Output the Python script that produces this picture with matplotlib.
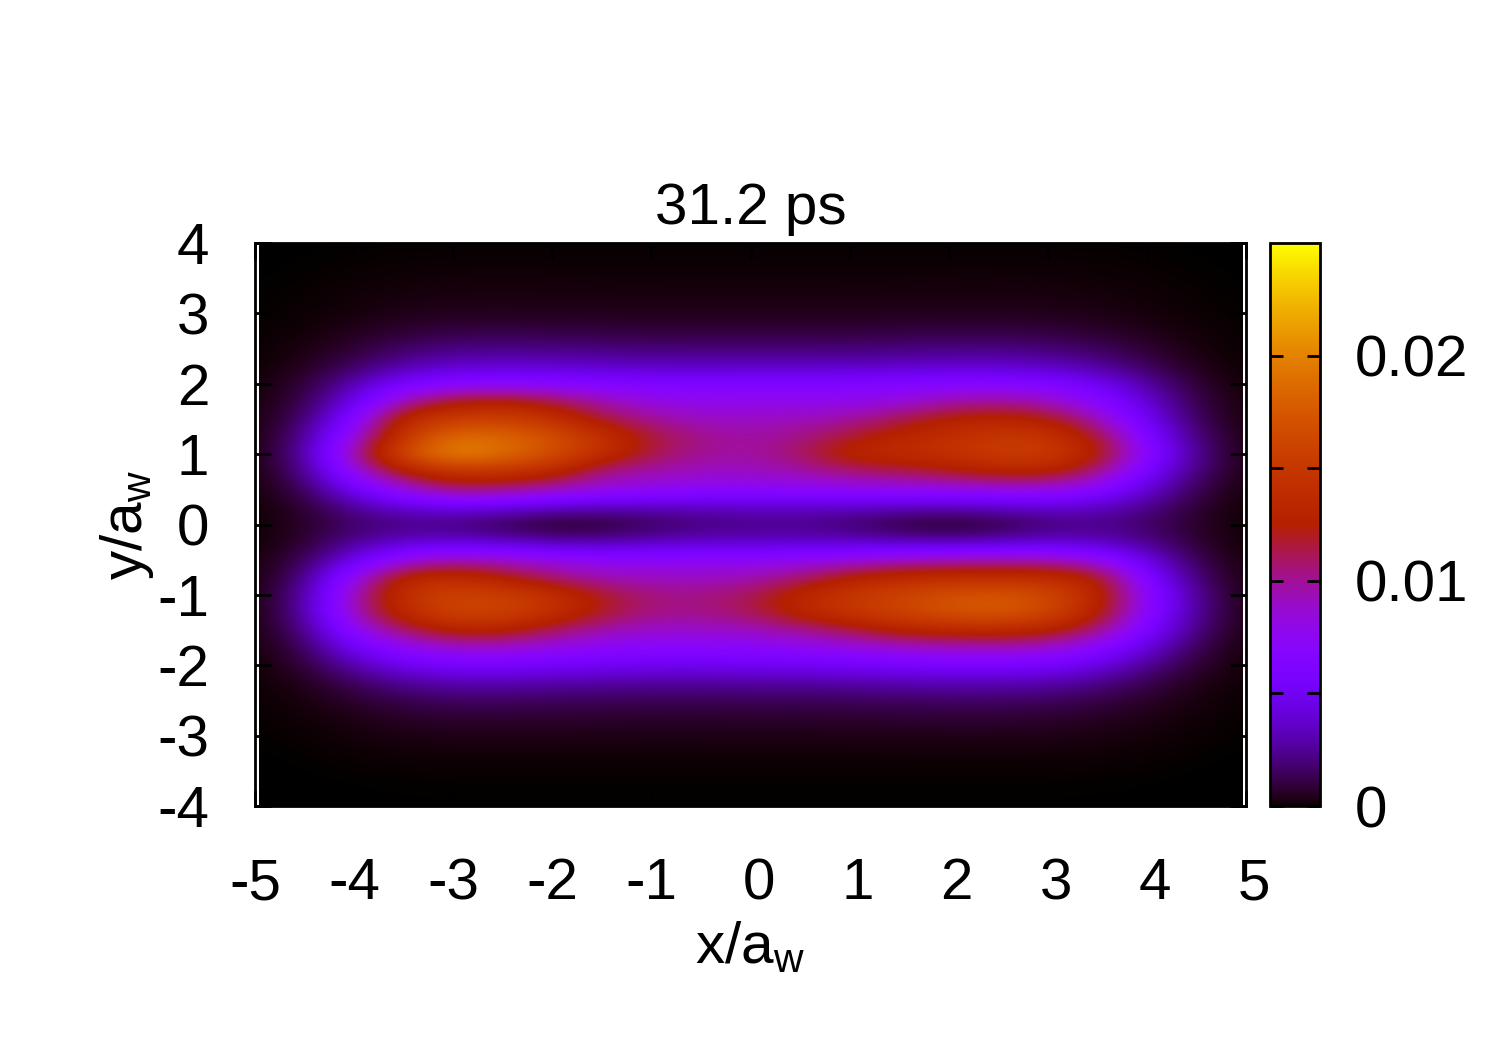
import numpy as np
import matplotlib
matplotlib.use("Agg")
import matplotlib.pyplot as plt
from matplotlib.patches import Rectangle
from matplotlib.transforms import ScaledTranslation

plt.rcParams['font.family'] = ['Liberation Sans', 'DejaVu Sans']
plt.rcParams['mathtext.fontset'] = 'custom'
plt.rcParams['mathtext.rm'] = 'Liberation Sans'
plt.rcParams['mathtext.default'] = 'regular'
plt.rcParams['axes.unicode_minus'] = False

title_text = "31.2 ps"
x_label = r"x/a$_{\mathrm{w}}$"
y_label = r"y/a$_{\mathrm{w}}$"
x_ticks = [-5, -4, -3, -2, -1, 0, 1, 2, 3, 4, 5]
y_ticks = [-4, -3, -2, -1, 0, 1, 2, 3, 4]
cb_major = [0, 0.01, 0.02]
cb_minor = [0.005, 0.015]
cb_labels = ["0", "0.01", "0.02"]
v_max = 0.025

# grid columns: x = -5 ... 5 in steps of 0.5; rows: y = 4 ... -4 in steps of 0.25
x_grid = [-5, -4.5, -4, -3.5, -3, -2.5, -2, -1.5, -1, -.5, 0, .5, 1, 1.5, 2, 2.5, 3, 3.5, 4, 4.5, 5]
y_grid = [4, 3.75, 3.5, 3.25, 3, 2.75, 2.5, 2.25, 2, 1.75, 1.5, 1.25, 1, .75, .5, .25, 0,
          -.25, -.5, -.75, -1, -1.25, -1.5, -1.75, -2, -2.25, -2.5, -2.75, -3, -3.25, -3.5, -3.75, -4]
# density in units of 1e-3
density_milli = [
 [.001,.002,.008,.015,.02,.02,.02,.02,.02,.02,.02,.02,.02,.02,.02,.02,.02,.015,.008,.002,.001],
 [.001,.005,.02,.04,.05,.05,.05,.05,.05,.05,.05,.05,.05,.05,.05,.05,.05,.04,.02,.005,.001],
 [.002,.015,.05,.1,.12,.12,.12,.11,.11,.11,.11,.11,.11,.11,.12,.12,.11,.09,.05,.015,.002],
 [.005,.03,.1,.2,.25,.26,.25,.24,.23,.23,.23,.23,.23,.24,.25,.25,.23,.18,.09,.03,.005],
 [.008,.05,.18,.35,.44,.45,.43,.41,.4,.4,.4,.4,.4,.41,.43,.43,.4,.3,.16,.05,.008],
 [.01,.1,.4,.8,1.0,1.05,1.0,.95,.9,.9,.9,.9,.9,.95,1,1,.9,.7,.35,.1,.01],
 [.01,.23,.8,1.65,2.1,2.2,2.1,2.0,1.9,1.9,1.9,1.9,1.9,2.0,2.1,2.1,1.9,1.45,.75,.18,.01],
 [.03,.4,1.5,2.9,3.6,3.75,3.7,3.5,3.4,3.4,3.4,3.4,3.4,3.5,3.6,3.6,3.35,2.65,1.4,.32,.03],
 [.05,.8,3,5.7,6.8,7,6.8,6.5,6.3,6.3,6.4,6.4,6.4,6.6,6.8,6.8,6.4,5,2.7,.7,.05],
 [.08,1.1,4.5,9.5,12.2,12.8,11.5,9.5,8.2,7.8,7.9,7.8,7.8,8.3,9.5,10,9.2,7,3.8,1,.07],
 [.1,1.6,6.3,14,15.5,15.8,14.5,11.5,10,9,9,9.2,9.8,11.3,12.8,13.2,12.5,9.3,4.8,1.3,.1],
 [.1,2.2,8.2,15,18.8,18.5,17,14.5,11.7,10.2,9.7,10.2,11.8,13.2,14.2,15,14.8,12,6,1.8,.12],
 [.1,2.5,10,17,20.6,19,17,14.3,11.3,10,9.7,11,13.5,14,14.5,15.5,15.5,13,7,2.2,.15],
 [.08,2,8,12.5,14.5,14.5,13.5,10,9.5,9,9,9.5,10.5,11,12,13,13,10.5,5.5,1.8,.1],
 [.05,1.3,5,8.5,11,10.5,9.5,8.5,8,7.5,7.5,7.5,7.8,8,8,8.3,8.3,7,3.8,1.2,.05],
 [.02,.7,2.5,3.8,4.4,4.2,3.5,3.2,3.2,3.3,3.5,3.5,3.5,3.3,3.2,3.5,3.8,3.4,2.3,.7,.02],
 [.01,.6,1.6,2,1.9,1.0,.3,.5,1.3,1.9,2.1,2.2,1.6,.7,.3,.8,1.8,2.2,1.6,.6,.01],
 [.02,.7,2.5,3.6,3.8,3.5,2.8,2.8,3.2,3.5,3.5,3.5,3.5,3.2,3,3.2,3.6,3.3,2.3,.7,.02],
 [.05,1.3,4.5,8,9.5,9,8.2,7.5,7.5,7.5,7.5,7.8,8.2,9,9.5,9.7,9.5,8,4.2,1.2,.05],
 [.08,1.9,8,13.5,14,12.5,10.5,9.3,9,9,9.3,10.5,12.8,13.8,14,14,14,12.8,6,1.7,.08],
 [.1,2.5,9.5,14.5,16,15.8,14.5,12,10.5,10.3,11.2,13.5,15,16,17,17.5,16.5,13.5,7.3,2.2,.13],
 [.1,2.5,9.5,13.8,16.3,16,14.5,12,10.3,10.3,11.2,13.3,15,16,17.3,17.7,16.5,13,7,2.3,.13],
 [.08,2,7.5,11,13,13,11,9.5,8.8,8.8,9,10,11.3,13,13.5,13.7,13,10.5,5.8,1.9,.1],
 [.07,1.3,5,7.5,8.8,8.8,8,7.3,7,7,7.2,7.6,8,8.8,9,9.2,8.8,7,4,1.2,.07],
 [.05,.8,3,4.8,5.5,5.5,5.2,5,4.8,4.8,4.9,5,5.2,5.5,5.7,5.7,5.4,4.3,2.4,.7,.05],
 [.03,.38,1.4,2.5,3.0,3.0,2.8,2.7,2.6,2.6,2.7,2.7,2.8,3.0,3.1,3.1,2.9,2.25,1.2,.33,.03],
 [.01,.2,.7,1.2,1.5,1.5,1.4,1.35,1.3,1.3,1.35,1.35,1.4,1.5,1.55,1.55,1.45,1.1,.6,.18,.01],
 [.01,.08,.3,.6,.75,.75,.72,.7,.68,.68,.7,.7,.72,.78,.8,.8,.72,.55,.28,.08,.01],
 [.005,.04,.14,.27,.34,.34,.33,.32,.31,.31,.32,.32,.33,.34,.36,.36,.33,.25,.13,.04,.005],
 [.002,.01,.05,.09,.11,.11,.11,.1,.1,.1,.1,.1,.11,.11,.12,.12,.11,.09,.05,.01,.002],
 [.001,.003,.012,.025,.03,.03,.03,.03,.03,.03,.03,.03,.03,.03,.03,.03,.03,.025,.012,.003,.001],
 [0,.001,.003,.008,.01,.01,.01,.01,.01,.01,.01,.01,.01,.01,.01,.01,.01,.008,.003,.001,0],
 [0,0,.001,.002,.003,.003,.003,.003,.003,.003,.003,.003,.003,.003,.003,.003,.003,.002,.001,0,0],
]

W, H = 1500, 1050
fig = plt.figure(figsize=(W / 100, H / 100), dpi=100, facecolor='white')

def axes_px(l, t, r, b):
    return fig.add_axes([l / W, 1 - b / H, (r - l) / W, (b - t) / H])

ax = axes_px(255, 243, 1246, 806)
cax = axes_px(1270, 243, 1320, 806)

FS = 42
LW = 2.0
cmap = plt.get_cmap('gnuplot').resampled(4096)
z = np.array(density_milli) * 1e-3
dx = x_grid[1] - x_grid[0]
dy = y_grid[0] - y_grid[1]
im = ax.imshow(z, cmap=cmap, vmin=0, vmax=v_max, aspect='auto', origin='upper',
               interpolation='bicubic',
               extent=(x_grid[0] - dx / 2, x_grid[-1] + dx / 2, y_grid[-1] - dy / 2, y_grid[0] + dy / 2))
ax.set_xlim(-5, 5)
ax.set_ylim(-4, 4)
im.set_clip_path(Rectangle((-4.96, -4), 9.92, 8, transform=ax.transData))

ax.set_xticks(x_ticks)
ax.set_yticks(y_ticks)
ax.tick_params(which='major', direction='in', length=11.5, width=LW, labelsize=FS, color='black',
               top=True, right=True, bottom=True, left=True)
ax.tick_params(axis='x', pad=37)
ax.tick_params(axis='y', pad=33)
for s in ax.spines.values():
    s.set_linewidth(LW)
for tick, val in zip(ax.xaxis.get_major_ticks(), x_ticks):
    if val >= 0:
        lab = tick.label1
        lab.set_transform(lab.get_transform() + ScaledTranslation(0.08, 0, fig.dpi_scale_trans))

ax.set_title(title_text, fontsize=FS, pad=14)
ax.set_xlabel(x_label, fontsize=FS, labelpad=6)
ax.set_ylabel(y_label, fontsize=FS, labelpad=1)

cb = fig.colorbar(im, cax=cax)
cb.set_ticks(cb_major, labels=cb_labels)
cb.set_ticks(cb_minor, minor=True)
cax.tick_params(which='both', direction='in', length=9.5, width=LW, color='black',
                left=True, right=True, labelsize=FS, pad=25)
cb.outline.set_linewidth(LW)

fig.savefig("out.png", dpi=100)
